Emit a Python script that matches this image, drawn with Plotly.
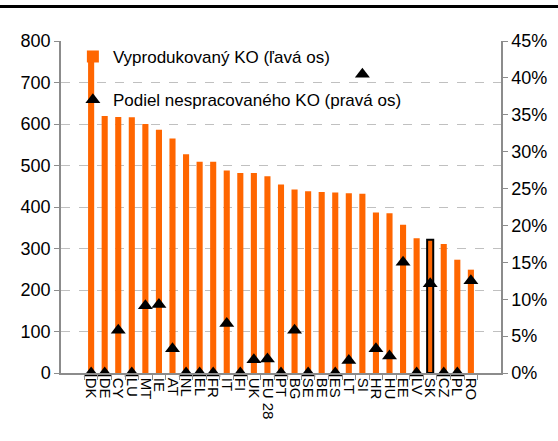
import plotly.graph_objects as go

countries = ["DK", "DE", "CY", "LU", "MT", "IE", "AT", "NL", "EL", "FR", "IT", "FI", "UK", "EU 28",
             "PT", "BG", "SE", "BE", "ES", "LT", "SI", "HR", "HU", "EE", "LV", "SK", "CZ", "PL", "RO"]
waste_kg = [759, 619, 617, 616, 600, 586, 565, 527, 509, 509, 488, 482, 482, 474,
            454, 442, 438, 436, 435, 433, 432, 387, 385, 357, 325, 321, 311, 273, 249]
landfill_share = [0.0, 0.0, 0.058, 0.0, 0.091, 0.093, 0.033, 0.0, 0.0, 0.0, 0.067, 0.0, 0.018, 0.019,
                  0.0, 0.058, 0.0, None, 0.0, 0.017, 0.405, 0.033, 0.023, 0.150, 0.0, 0.121, 0.0, 0.0, 0.125]
highlight = "SK"

orange = "#FF6600"
axis_gray = "#8C8C8C"
grid_gray = "#C0C0C0"
font_family = "Liberation Sans, Arial, sans-serif"

line_widths = [2 if c == highlight else 0 for c in countries]

fig = go.Figure()
fig.add_trace(go.Bar(
    x=countries, y=waste_kg, name="Vyprodukovaný KO (ľavá os)",
    marker=dict(color=orange, line=dict(color="black", width=line_widths)),
    width=0.45, yaxis="y", legend="legend", showlegend=True,
))
fig.add_trace(go.Scatter(
    x=countries, y=landfill_share, name="Podiel nespracovaného KO (pravá os)",
    mode="markers", marker=dict(symbol="triangle-up", size=13, color="black"),
    yaxis="y2", cliponaxis=False, legend="legend2", showlegend=True,
))

fig.update_layout(
    width=558, height=441,
    margin=dict(l=61, r=57, t=41, b=68),
    paper_bgcolor="white", plot_bgcolor="white",
    font=dict(family=font_family, size=17, color="black"),
    showlegend=True,
    xaxis=dict(
        type="category", tickmode="linear", dtick=1,
        showline=True, linecolor=axis_gray, linewidth=1.5,
        ticks="outside", tickson="boundaries", ticklen=5, tickcolor=axis_gray,
        tickangle=90, tickfont=dict(size=15), showgrid=False,
    ),
    yaxis=dict(
        range=[0, 800], dtick=100, showline=True, linecolor=axis_gray, linewidth=1.5,
        ticks="outside", ticklen=5, tickcolor=axis_gray, tickfont=dict(size=18),
        showgrid=True, gridcolor=grid_gray, griddash="dash", gridwidth=1.2,
        zeroline=False,
    ),
    yaxis2=dict(
        range=[0, 0.45], dtick=0.05, tickformat=".0%", overlaying="y", side="right",
        showline=True, linecolor=axis_gray, linewidth=1.5,
        ticks="outside", ticklen=5, tickcolor=axis_gray, tickfont=dict(size=18),
        showgrid=False, zeroline=False,
    ),
    legend=dict(x=0.027, y=0.952, xanchor="left", yanchor="middle",
                bgcolor="rgba(0,0,0,0)", font=dict(size=17), itemwidth=30),
    legend2=dict(x=0.027, y=0.822, xanchor="left", yanchor="middle",
                 bgcolor="rgba(0,0,0,0)", font=dict(size=17), itemwidth=30),
    shapes=[dict(type="rect", xref="paper", yref="paper", layer="above",
                 x0=-61 / 440, x1=1 + 57 / 440,
                 y0=(373 - 8) / 332, y1=(373 - 5) / 332,
                 fillcolor="black", line=dict(width=0))],
)

fig.write_html("out.html")
